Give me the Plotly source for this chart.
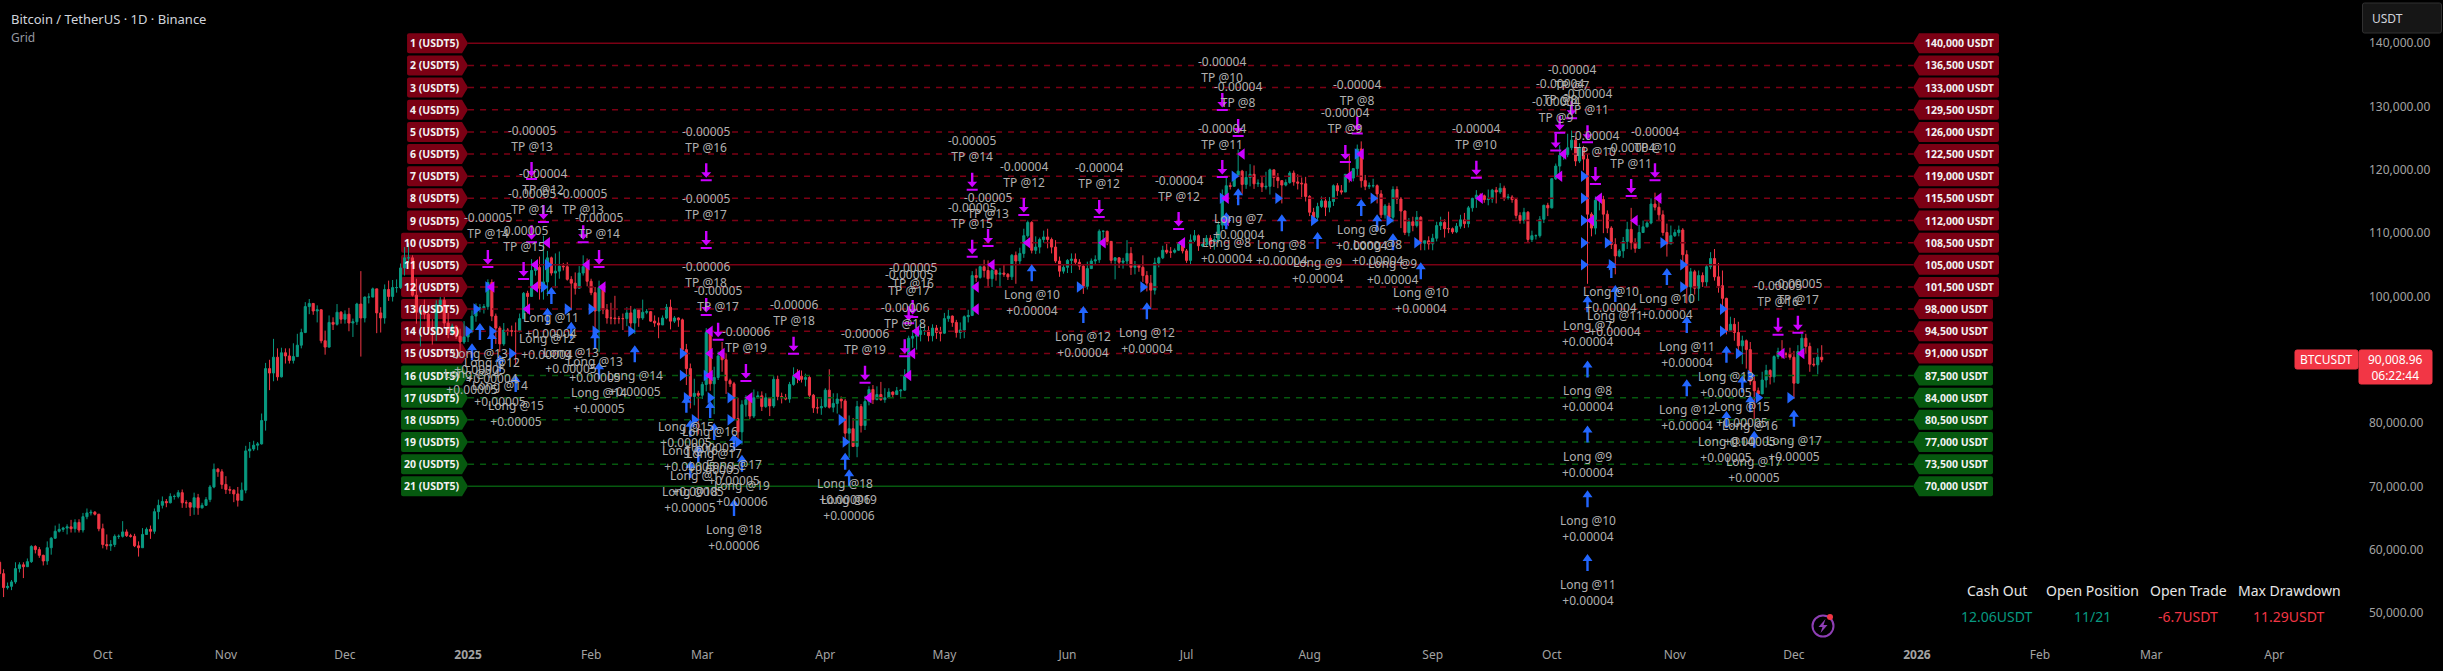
"""BTCUSDT daily candles with grid strategy levels, TP and Long markers"""

import pandas as pd
import plotly.graph_objs as go

# daily candles in thousands of USDT, first candle is 2024-09-05
first_day = '2024-09-05'
first_open = 58.0

closes = [
    # Sep 2024
    56.2, 54.0, 54.2, 54.9, 57.0, 57.6, 57.3, 58.1, 60.5, 60.0, 59.1, 58.2, 60.3, 61.8, 62.9, 63.2, 63.4, 63.6, 63.3, 64.3, 63.1, 65.2, 65.8, 65.9, 65.6, 63.3,
    # Oct
    60.8, 60.6, 60.8, 62.1, 62.1, 62.8, 62.2, 62.1, 60.6, 60.3, 62.4, 63.2, 62.9, 66.0, 67.0, 67.6, 67.4, 68.4, 68.4, 69.0, 67.4, 67.4, 66.7, 68.2, 66.6, 67.0, 67.9, 69.9, 72.7, 72.3, 70.3,
    # Nov
    69.5, 69.4, 68.8, 67.8, 69.4, 75.6, 75.9, 76.5, 76.7, 80.4, 88.6, 87.9, 90.4, 87.3, 91.1, 90.6, 89.9, 90.5, 92.3, 94.3, 98.4, 98.9, 97.7, 97.9, 93.0, 92.0, 95.9, 95.6, 97.5, 96.4,
    # Dec
    97.2, 95.8, 96.0, 98.8, 96.6, 99.9, 99.9, 101.2, 97.4, 96.6, 101.1, 100.0, 101.4, 101.4, 104.5, 106.1, 106.1, 100.2, 97.5, 97.8, 97.2, 95.1, 94.7, 98.7, 99.4, 95.8, 94.3, 95.3, 93.7, 92.8, 93.6,
    # Jan 2025
    94.6, 96.9, 98.1, 98.2, 98.4, 102.2, 96.9, 95.0, 92.5, 94.7, 94.6, 94.5, 94.5, 96.5, 100.5, 100.0, 104.1, 104.6, 101.3, 102.3, 106.1, 103.7, 104.0, 104.8, 104.7, 102.7, 102.1, 101.3, 103.7, 104.7, 102.4,
    # Feb
    100.6, 97.7, 101.4, 97.9, 96.6, 96.6, 96.5, 96.5, 96.5, 97.4, 95.8, 97.9, 96.6, 97.5, 97.6, 96.1, 95.8, 95.5, 96.6, 98.3, 96.1, 96.6, 96.3, 91.6, 88.6, 84.2, 84.7, 84.4,
    # Mar
    86.1, 94.3, 86.2, 87.2, 90.6, 90.0, 86.7, 86.2, 80.7, 78.6, 82.9, 83.7, 81.1, 84.0, 84.3, 82.6, 84.0, 82.7, 86.9, 84.2, 84.0, 83.8, 86.1, 87.5, 87.4, 86.9, 87.2, 84.4, 82.4, 82.4, 82.6,
    # Apr
    85.2, 82.5, 83.1, 83.8, 83.5, 78.4, 79.1, 76.3, 82.6, 79.6, 83.4, 85.3, 83.7, 84.5, 83.7, 84.0, 84.9, 84.5, 85.1, 85.2, 87.5, 93.4, 93.7, 94.0, 94.6, 94.6, 93.8, 95.0, 94.3, 94.2,
    # May
    96.5, 96.9, 95.9, 94.3, 94.7, 96.8, 97.0, 103.3, 103.0, 104.7, 104.1, 102.8, 104.1, 103.5, 103.7, 103.5, 103.1, 106.5, 105.6, 106.8, 109.6, 111.7, 107.3, 107.8, 109.0, 109.4, 109.0, 107.8, 105.6, 104.0, 104.6,
    # Jun
    105.7, 105.9, 105.4, 104.8, 101.6, 104.4, 105.6, 105.8, 110.3, 110.3, 108.7, 105.7, 106.1, 105.4, 105.6, 106.8, 104.6, 104.9, 104.6, 103.3, 102.1, 101.0, 105.3, 106.1, 107.3, 107.0, 107.0, 107.3, 108.4, 107.2,
    # Jul
    105.7, 108.9, 109.6, 108.0, 108.2, 109.2, 108.3, 109.0, 111.3, 115.9, 117.5, 117.4, 119.1, 119.8, 117.7, 118.8, 119.3, 117.8, 117.9, 117.3, 117.4, 120.0, 118.8, 118.3, 117.6, 118.0, 119.5, 118.1, 117.9, 117.8, 115.8,
    # Aug
    113.3, 112.5, 114.2, 115.1, 114.1, 115.0, 117.5, 116.7, 116.5, 119.3, 118.7, 120.2, 123.3, 118.3, 117.4, 117.5, 117.5, 116.2, 112.9, 114.3, 112.5, 116.9, 115.4, 113.5, 110.1, 111.8, 111.2, 112.5, 108.4, 108.8, 108.3,
    # Sep
    109.2, 111.2, 111.7, 110.7, 110.7, 110.2, 111.1, 112.1, 111.5, 114.0, 115.5, 116.0, 115.9, 115.3, 115.4, 116.8, 116.5, 117.1, 115.6, 115.7, 115.3, 112.8, 112.0, 113.3, 109.0, 109.6, 109.6, 112.2, 114.4, 114.0,
    # Oct
    118.6, 120.6, 122.3, 122.4, 123.5, 124.7, 121.4, 123.4, 121.7, 113.0, 110.8, 115.2, 115.3, 113.0, 110.8, 108.2, 106.4, 107.2, 108.7, 110.6, 108.5, 107.6, 110.1, 111.0, 111.6, 114.6, 114.1, 112.9, 110.1, 108.3, 109.6,
    # Nov
    110.1, 110.5, 106.6, 101.5, 103.9, 101.3, 103.3, 102.3, 104.7, 106.0, 103.1, 101.7, 99.7, 94.6, 95.6, 94.3, 92.2, 93.0, 91.6, 86.6, 85.1, 84.6, 86.8, 88.3, 87.3, 90.5, 91.3, 90.9, 90.9, 90.4,
    # Dec
    86.3, 91.3, 93.4, 92.1, 89.3, 89.2, 90.4, 90.00896,
]

highs = [
    58.3, 56.9, 54.8, 55.2, 58.0, 58.0, 58.0, 58.6, 60.7, 60.7, 60.4, 59.2, 61.3, 62.0, 63.8, 64.1, 63.6, 64.0, 64.7, 64.8, 64.8, 65.8, 66.5, 66.3, 66.1, 65.6,
    64.1, 62.4, 61.5, 62.4, 62.4, 64.5, 63.2, 62.5, 62.5, 61.3, 63.4, 63.5, 63.8, 66.5, 67.9, 68.4, 68.0, 68.9, 68.7, 69.4, 69.5, 67.8, 67.5, 69.0, 68.8, 67.4, 68.3, 70.2, 73.6, 72.9, 72.7,
    71.6, 70.0, 69.5, 69.9, 70.6, 76.4, 77.0, 77.2, 77.0, 81.5, 89.5, 90.0, 93.3, 91.8, 91.9, 91.8, 91.8, 92.6, 94.1, 94.9, 99.1, 99.6, 98.8, 98.6, 94.9, 94.6, 97.0, 96.7, 98.8, 97.7,
    97.8, 98.2, 96.5, 99.0, 104.0, 100.0, 100.5, 101.4, 101.2, 98.3, 101.9, 102.5, 102.6, 102.7, 105.2, 107.8, 108.4, 106.5, 102.8, 98.2, 99.5, 97.4, 96.4, 99.4, 99.9, 99.9, 97.4, 95.7, 95.4, 94.9, 96.1,
    95.0, 97.8, 98.9, 98.8, 98.8, 102.7, 102.7, 97.3, 95.3, 95.8, 95.0, 95.4, 95.9, 97.3, 100.7, 100.9, 105.9, 105.3, 106.3, 109.6, 107.2, 106.3, 106.8, 107.1, 105.3, 105.4, 103.2, 103.8, 104.8, 106.5, 106.0,
    102.8, 101.5, 102.5, 101.7, 98.8, 99.0, 100.1, 96.9, 97.3, 98.3, 98.5, 98.1, 98.0, 99.5, 98.0, 97.7, 97.0, 96.7, 97.0, 98.8, 99.5, 96.9, 96.7, 96.5, 92.5, 89.4, 87.0, 85.1,
    86.5, 95.0, 94.4, 88.9, 91.3, 92.8, 91.0, 87.0, 86.5, 84.0, 83.6, 84.4, 84.0, 85.3, 85.0, 85.0, 84.7, 84.0, 87.4, 87.5, 84.8, 84.6, 86.5, 88.8, 88.5, 88.3, 87.8, 87.5, 84.6, 83.9, 83.9,
    85.5, 88.5, 84.7, 84.7, 84.2, 83.8, 81.2, 80.8, 83.5, 83.0, 84.3, 85.8, 86.0, 85.8, 86.5, 85.5, 85.5, 85.0, 85.7, 85.3, 88.5, 93.8, 94.7, 94.5, 95.8, 95.3, 95.3, 95.6, 95.5, 95.2,
    97.4, 97.9, 97.0, 96.3, 95.9, 97.0, 97.9, 104.0, 104.4, 104.9, 105.8, 105.7, 105.0, 104.3, 104.5, 105.0, 103.7, 106.7, 107.1, 107.7, 110.7, 112.0, 111.9, 109.5, 109.3, 110.4, 110.7, 109.3, 108.9, 106.3, 105.0,
    105.9, 106.8, 106.8, 105.9, 105.0, 105.5, 106.0, 106.5, 110.6, 110.4, 110.4, 108.4, 106.2, 106.2, 106.1, 108.9, 107.8, 105.6, 105.0, 106.5, 104.0, 103.4, 106.1, 106.3, 108.0, 108.3, 107.8, 107.6, 108.5, 108.8,
    107.5, 109.8, 110.5, 109.8, 108.5, 109.7, 109.7, 109.6, 111.9, 116.9, 118.9, 118.0, 119.5, 123.2, 120.0, 119.8, 120.9, 120.7, 118.5, 118.9, 119.7, 120.2, 120.0, 119.5, 118.4, 118.5, 119.8, 119.9, 119.3, 118.8, 118.9,
    116.0, 114.0, 114.8, 115.8, 115.7, 115.7, 117.7, 117.9, 117.6, 119.3, 122.3, 120.3, 124.0, 124.5, 119.2, 118.0, 118.6, 117.7, 116.8, 114.6, 114.8, 117.4, 117.4, 115.7, 113.6, 112.4, 112.6, 113.5, 112.7, 108.8, 109.5,
    109.9, 111.8, 112.6, 112.2, 113.4, 110.9, 111.6, 112.9, 113.2, 114.3, 115.6, 116.8, 116.3, 116.1, 116.9, 117.0, 117.3, 117.9, 117.5, 116.2, 116.0, 115.4, 113.3, 114.0, 113.5, 110.4, 109.8, 112.7, 114.5, 114.8,
    118.7, 121.0, 123.9, 122.9, 125.7, 126.2, 125.1, 124.2, 123.8, 122.5, 113.3, 115.8, 115.9, 115.9, 113.6, 111.1, 109.2, 107.5, 109.4, 111.8, 114.0, 109.2, 111.3, 112.0, 111.9, 115.5, 116.4, 116.0, 113.6, 111.5, 111.2,
    110.6, 111.2, 110.8, 107.3, 104.5, 104.2, 104.1, 103.8, 105.0, 107.0, 107.5, 105.3, 104.1, 99.8, 96.8, 96.6, 96.0, 93.8, 93.2, 92.8, 87.5, 85.6, 88.1, 89.2, 88.5, 90.7, 91.9, 93.1, 91.2, 91.9,
    91.4, 92.3, 94.1, 94.1, 92.7, 90.3, 91.8, 92.3,
]

lows = [
    55.6, 52.5, 53.7, 53.6, 54.6, 56.4, 55.5, 57.6, 57.9, 59.4, 58.7, 57.5, 57.6, 59.2, 61.7, 62.7, 62.8, 62.4, 62.7, 62.7, 62.7, 62.7, 64.8, 65.4, 65.4, 62.9,
    60.2, 60.0, 59.8, 60.4, 61.7, 61.9, 62.0, 61.9, 60.4, 58.9, 60.3, 62.5, 61.7, 62.5, 64.8, 66.5, 66.7, 67.3, 67.9, 68.1, 66.6, 66.6, 65.3, 65.5, 65.5, 66.5, 66.9, 67.5, 69.7, 71.5, 69.6,
    68.8, 68.8, 67.5, 66.8, 68.5, 68.9, 74.5, 75.6, 75.7, 76.6, 78.8, 85.2, 86.6, 86.7, 87.2, 89.4, 89.4, 89.4, 90.6, 91.8, 94.2, 97.2, 97.1, 95.9, 92.6, 90.8, 91.9, 94.7, 95.4, 95.7,
    95.7, 94.5, 93.6, 95.5, 90.5, 95.9, 98.9, 100.4, 94.2, 94.3, 95.7, 99.3, 99.2, 100.6, 101.2, 103.3, 105.3, 100.0, 95.7, 92.1, 96.4, 94.2, 92.4, 93.0, 97.6, 95.1, 93.4, 93.8, 93.3, 91.3, 92.5,
    92.8, 94.2, 96.0, 97.5, 97.3, 97.9, 96.1, 92.5, 91.2, 92.2, 93.8, 93.7, 89.3, 94.3, 96.5, 97.3, 100.3, 103.3, 99.5, 99.5, 100.1, 103.3, 101.3, 102.8, 104.1, 102.5, 97.8, 100.3, 101.3, 103.3, 101.6,
    100.2, 93.4, 91.2, 97.2, 95.7, 95.6, 95.6, 95.7, 94.7, 95.3, 94.8, 94.1, 95.2, 96.3, 97.2, 96.0, 95.2, 93.4, 95.5, 96.4, 94.8, 95.8, 95.2, 91.2, 86.0, 82.3, 82.8, 78.2,
    83.8, 85.0, 85.1, 81.4, 86.8, 88.1, 84.6, 85.7, 80.6, 77.4, 76.6, 81.0, 80.6, 80.8, 83.9, 81.9, 82.4, 81.1, 82.4, 83.6, 83.1, 83.6, 83.2, 85.9, 86.3, 86.4, 85.8, 83.8, 81.6, 81.5, 81.3,
    82.4, 82.3, 81.7, 81.5, 82.3, 77.2, 74.5, 76.2, 74.6, 78.5, 78.9, 82.8, 83.0, 83.6, 83.5, 83.2, 84.0, 84.1, 84.5, 83.9, 85.1, 87.1, 91.9, 91.6, 92.9, 93.9, 92.9, 92.9, 93.3, 92.9,
    94.1, 96.0, 95.2, 93.5, 93.3, 93.4, 95.9, 96.9, 102.3, 102.8, 103.0, 101.4, 101.5, 102.5, 101.4, 103.1, 102.6, 102.6, 102.0, 105.0, 106.1, 109.3, 106.8, 106.7, 106.8, 108.5, 107.6, 106.8, 105.3, 103.1, 103.6,
    103.7, 103.7, 105.0, 104.2, 100.4, 101.1, 104.9, 105.0, 105.3, 108.3, 108.1, 105.2, 102.7, 104.5, 104.4, 104.9, 103.4, 103.5, 103.9, 102.3, 100.8, 98.2, 100.3, 104.6, 105.9, 106.7, 106.1, 106.8, 107.2, 106.8,
    105.3, 105.1, 108.6, 107.2, 107.8, 107.8, 107.5, 107.4, 108.4, 110.6, 115.2, 116.9, 117.3, 118.9, 116.2, 117.0, 117.4, 117.0, 117.3, 116.5, 116.9, 116.1, 117.3, 117.1, 114.7, 117.4, 117.8, 117.5, 116.9, 115.7, 115.0,
    112.7, 112.0, 111.9, 114.0, 112.7, 113.3, 114.3, 115.9, 116.1, 116.5, 118.0, 118.2, 118.9, 117.2, 116.8, 117.0, 117.2, 114.7, 112.4, 112.3, 111.6, 111.7, 114.6, 110.8, 109.7, 109.5, 110.3, 110.9, 107.3, 107.3, 107.4,
    107.3, 108.7, 110.5, 109.3, 110.0, 109.9, 110.0, 110.7, 110.8, 110.9, 113.4, 114.0, 115.2, 114.8, 114.4, 114.8, 114.7, 116.2, 115.1, 115.3, 114.8, 112.3, 111.5, 111.5, 108.6, 108.6, 109.0, 109.3, 111.6, 112.7,
    113.9, 118.4, 119.3, 121.6, 122.0, 123.1, 120.6, 121.1, 119.9, 102.0, 109.5, 109.8, 113.6, 110.0, 110.0, 107.5, 103.5, 106.2, 106.1, 107.5, 107.4, 106.9, 107.5, 110.3, 110.9, 111.4, 113.6, 111.9, 109.6, 106.3, 108.4,
    109.4, 109.5, 105.3, 98.9, 98.9, 100.3, 99.3, 101.5, 101.5, 104.3, 102.5, 100.6, 98.0, 94.0, 94.6, 93.0, 91.2, 89.3, 88.6, 86.0, 80.6, 83.5, 85.3, 85.6, 86.1, 86.4, 90.1, 90.2, 90.3, 90.0,
    83.8, 86.2, 91.0, 90.9, 88.1, 88.9, 87.7, 89.6,
]

# grid levels, USDT
level_prices = [140000, 136500, 133000, 129500, 126000, 122500, 119000, 115500, 112000, 108500, 105000,
                101500, 98000, 94500, 91000, 87500, 84000, 80500, 77000, 73500, 70000]
solid_rows = [1, 11, 21]
first_green_row = 16

# TP events: days since 2025-01-01, price in thousands, texts
tp_days = [5, 14, 16, 19, 16, 29, 33, 60, 60, 60, 63, 70, 82, 100, 110, 112, 111, 127, 131, 127, 140, 159, 179,
           190, 194, 190, 224, 221, 254, 278, 275, 274, 282, 284, 293, 299, 335, 330]
tp_prices = [104.5, 102.6, 118.4, 111.6, 108.4, 108.4, 104.5, 118.2, 107.5, 96.9, 93.0, 86.5, 90.8, 86.2, 90.4,
             96.6, 95.6, 116.7, 107.8, 106.1, 112.7, 112.4, 110.5, 129.3, 125.2, 118.7, 125.6, 121.1, 118.6,
             128.0, 125.7, 122.9, 124.2, 117.6, 115.7, 118.2, 94.1, 93.8]
tp_amounts = ['-0.00005', '-0.00005', '-0.00005', '-0.00004', '-0.00005', '-0.00005', '-0.00005', '-0.00005',
              '-0.00005', '-0.00006', '-0.00005', '-0.00006', '-0.00006', '-0.00006', '-0.00006', '-0.00005',
              '-0.00005', '-0.00005', '-0.00005', '-0.00005', '-0.00004', '-0.00004', '-0.00004', '-0.00004',
              '-0.00004', '-0.00004', '-0.00004', '-0.00004', '-0.00004', '-0.00004', '-0.00004', '-0.00004',
              '-0.00004', '-0.00004', '-0.00004', '-0.00004', '-0.00005', '-0.00005']
tp_rows = [14, 15, 13, 12, 14, 13, 14, 16, 17, 18, 17, 19, 18, 19, 18, 16, 17, 14, 13, 15, 12, 12, 12,
           10, 8, 11, 8, 9, 10, 7, 8, 9, 11, 10, 11, 10, 17, 16]

# Long events
long_days = [142, 155, 171, 194, 205, 214, 225, 229, 233, 240, 191, 288, 302, 289, 282, 282, 282, 282, 282, 307,
             317, 307, 321, 317, 323, 324, 334, 21, 20, 3, 6, 26, 32, 1, 8, 12, 42, 33, 55, 61, 56, 62, 67, 58,
             69, 56, 67, 95, 96]
long_prices = [105.1, 98.5, 99.1, 117.1, 113.0, 110.2, 115.4, 113.0, 110.0, 105.4, 113.3, 105.6, 104.5, 101.8,
               100.2, 89.9, 79.6, 69.4, 59.3, 96.9, 92.2, 86.9, 87.5, 81.9, 84.4, 78.8, 82.1, 101.5, 98.2, 95.8,
               94.4, 96.0, 94.5, 92.6, 90.8, 87.6, 92.3, 89.6, 84.3, 83.5, 80.5, 80.0, 78.3, 76.5, 75.0, 74.0,
               68.0, 75.3, 72.7]
long_rows = [10, 12, 12, 7, 8, 9, 6, 8, 9, 10, 8, 10, 10, 11, 7, 8, 9, 10, 11, 11, 13, 12, 15, 14, 16, 17, 17,
             11, 12, 13, 12, 13, 13, 14, 14, 15, 14, 14, 15, 16, 16, 17, 17, 17, 19, 18, 18, 18, 19]
long_amounts = ['+0.00004'] * 20 + ['+0.00005', '+0.00004', '+0.00005', '+0.00005', '+0.00005', '+0.00005',
                                    '+0.00005', '+0.00004', '+0.00004', '+0.00005', '+0.00004', '+0.00005',
                                    '+0.00005', '+0.00005', '+0.00005', '+0.00005', '+0.00005', '+0.00005',
                                    '+0.00005', '+0.00005', '+0.00005', '+0.00005', '+0.00005', '+0.00005',
                                    '+0.00006', '+0.00005', '+0.00006', '+0.00006', '+0.00006']

# fills on the grid levels
buy_fill_days = [5, 2, 0, 6, 20, 19, 25, 31, 11, 32, 41, 54, 54, 55, 57, 60, 61, 66, 66, 68, 94, 95, 154, 170,
                 193, 190, 204, 213, 224, 228, 232, 239, 191, 281, 281, 281, 281, 281, 287, 288, 301, 306, 306,
                 316, 316, 320, 323, 325, 333]
buy_fill_levels = [101500, 98000, 94500, 94500, 105000, 101500, 98000, 98000, 91000, 94500, 94500, 91000, 87500,
                   84000, 80500, 87500, 84000, 84000, 80500, 77000, 80500, 77000, 101500, 101500, 119000, 115500,
                   115500, 112000, 122500, 115500, 112000, 108500, 112000, 119000, 115500, 112000, 108500, 105000,
                   108500, 105000, 108500, 105000, 101500, 98000, 94500, 91000, 87500, 84000, 84000]
sell_fill_days = [61, 61, 61, 64, 71, 83, 101, 111, 112, 113, 128, 128, 132, 141, 160, 180, 195, 191, 222, 225,
                  255, 191, 276, 275, 285, 283, 294, 300, 331, 336, 6, 20, 17, 17, 15, 30, 34]
sell_fill_levels = [94500, 91000, 87500, 91000, 84000, 87500, 84000, 87500, 91000, 94500, 98000, 101500, 105000,
                    108500, 108500, 108500, 122500, 115500, 119000, 122500, 115500, 112000, 122500, 119000,
                    115500, 112000, 112000, 115500, 91000, 91000, 101500, 108500, 105000, 101500, 98000, 105000,
                    101500]

y_ticks = [140000, 130000, 120000, 110000, 100000, 90000, 80000, 70000, 60000, 50000]
x_tick_dates = ['2024-10-01', '2024-11-01', '2024-12-01', '2025-01-01', '2025-02-01', '2025-03-01', '2025-04-01',
                '2025-05-01', '2025-06-01', '2025-07-01', '2025-08-01', '2025-09-01', '2025-10-01', '2025-11-01',
                '2025-12-01', '2026-01-01', '2026-02-01', '2026-03-01', '2026-04-01']
x_tick_labels = ['Oct', 'Nov', 'Dec', '<b>2025</b>', 'Feb', 'Mar', 'Apr', 'May', 'Jun', 'Jul', 'Aug', 'Sep', 'Oct',
                 'Nov', 'Dec', '<b>2026</b>', 'Feb', 'Mar', 'Apr']

table_heads = ['Cash Out', 'Open Position', 'Open Trade', 'Max Drawdown']
table_values = ['12.06USDT', '11/21', '-6.7USDT', '11.29USDT']

UP = '#089981'
DOWN = '#F23645'
DARK_RED = '#7B0014'
DARK_GREEN = '#06590F'
MAGENTA = '#CC00FF'
BLUE = '#2266FF'
NOTE = '#B0B0B0'
AXIS_TEXT = '#A3A3A3'
FONT = 'Noto Sans'

PLOT_W = 2362
PLOT_H = 640
base_day = pd.Timestamp('2025-01-01')


def day(n):
    return (base_day + pd.Timedelta(days=n)).strftime('%Y-%m-%d %H:%M')


def rounded(w, h, r=2):
    """Path of a rounded box around the anchor, in pixels"""
    x, y = w / 2, h / 2
    return (f'M {-x + r},{y} L {x - r},{y} Q {x},{y} {x},{y - r} L {x},{-y + r} Q {x},{-y} {x - r},{-y} '
            f'L {-x + r},{-y} Q {-x},{-y} {-x},{-y + r} L {-x},{y - r} Q {-x},{y} {-x + r},{y} Z')


def tag_path(side, w, h=20, tip=6, r=2):
    """Path of a pentagon price tag whose point sits on the anchor"""
    s = side
    y = h / 2
    return (f'M 0,0 L {s * tip},{y} L {s * (tip + w - r)},{y} Q {s * (tip + w)},{y} {s * (tip + w)},{y - r} '
            f'L {s * (tip + w)},{-y + r} Q {s * (tip + w)},{-y} {s * (tip + w - r)},{-y} L {s * tip},{-y} Z')


def paper_note(px, py, text, size=12, color='#D1D4DC', anchor='center'):
    return dict(xref='paper', yref='paper', x=px / PLOT_W, y=1 - py / PLOT_H, text=text, showarrow=False,
                xanchor=anchor, yanchor='middle', align='left' if anchor == 'left' else 'center',
                font=dict(family=FONT, size=size, color=color))


def paper_box(px, py, w, h, fill, line=None):
    return dict(type='path', xref='paper', yref='paper', xsizemode='pixel', ysizemode='pixel',
                xanchor=px / PLOT_W, yanchor=1 - py / PLOT_H, path=rounded(w, h), fillcolor=fill,
                line=dict(color=line or fill, width=1), layer='above')


def create_chart():
    dates = pd.date_range(first_day, periods=len(closes))
    assert len(closes) == len(highs) == len(lows)
    opens = [first_open] + closes[:-1]

    fig = go.Figure()
    shapes = []
    notes = []

    # grid lines first so the candles stay on top
    for i, price in enumerate(level_prices):
        row = i + 1
        color = DARK_RED if row < first_green_row else DARK_GREEN
        fig.add_trace(go.Scatter(x=[day(0), day(364)], y=[price, price], mode='lines', hoverinfo='skip',
                                 line=dict(color=color, width=1.5, dash='solid' if row in solid_rows else '6px,6px')))

        left_w = 55 if row < 10 else 61
        shapes.append(dict(type='path', xref='x', yref='y', xsizemode='pixel', ysizemode='pixel', xanchor=day(0),
                           yanchor=price, path=tag_path(-1, left_w), fillcolor=color, line=dict(width=0), layer='below'))
        notes.append(dict(x=day(0), y=price, xshift=-(6 + left_w / 2), text=f'<b>{row} (USDT5)</b>', showarrow=False,
                          font=dict(family=FONT, size=10.5, color='#F2F2F2')))

        right_w = 80 if price > 100000 else 74
        shapes.append(dict(type='path', xref='x', yref='y', xsizemode='pixel', ysizemode='pixel', xanchor=day(364),
                           yanchor=price, path=tag_path(1, right_w), fillcolor=color, line=dict(width=0), layer='below'))
        notes.append(dict(x=day(364), y=price, xshift=6 + right_w / 2, text=f'<b>{price:,} USDT</b>', showarrow=False,
                          font=dict(family=FONT, size=10.5, color='#F2F2F2')))

    fig.add_trace(go.Candlestick(x=dates, open=[v * 1000 for v in opens], high=[v * 1000 for v in highs],
                                 low=[v * 1000 for v in lows], close=[v * 1000 for v in closes],
                                 whiskerwidth=0, hoverinfo='skip',
                                 increasing=dict(line=dict(color=UP, width=1), fillcolor=UP),
                                 decreasing=dict(line=dict(color=DOWN, width=1), fillcolor=DOWN)))

    fig.add_trace(go.Scatter(x=[day(d) for d in buy_fill_days], y=buy_fill_levels, mode='markers', hoverinfo='skip',
                             marker=dict(symbol='triangle-right', size=10, color=BLUE)))
    fig.add_trace(go.Scatter(x=[day(d) for d in sell_fill_days], y=sell_fill_levels, mode='markers', hoverinfo='skip',
                             marker=dict(symbol='triangle-left', size=10, color=MAGENTA)))

    # TP arrows point down on a bar, the note sits above
    tp_arrow = ('M -5.5,0 L 5.5,0 L 5.5,2 L -5.5,2 Z '
                'M 0,3.5 L 5,9 L 1.2,9 L 1.2,18 L -1.2,18 L -1.2,9 L -5,9 Z')
    for d, price, amount, row in zip(tp_days, tp_prices, tp_amounts, tp_rows):
        shapes.append(dict(type='path', xref='x', yref='y', xsizemode='pixel', ysizemode='pixel', xanchor=day(d),
                           yanchor=price * 1000, path=tp_arrow, fillcolor=MAGENTA, line=dict(width=0), layer='above'))
        notes.append(dict(x=day(d), y=price * 1000, yshift=42, text=f'{amount}<br>TP @{row}', showarrow=False,
                          font=dict(family=FONT, size=12, color=NOTE)))

    # Long arrows point up, the note sits below
    long_arrow = 'M 0,0 L 5,-7 L 1.2,-7 L 1.2,-17 L -1.2,-17 L -1.2,-7 L -5,-7 Z'
    for d, price, amount, row in zip(long_days, long_prices, long_amounts, long_rows):
        shapes.append(dict(type='path', xref='x', yref='y', xsizemode='pixel', ysizemode='pixel', xanchor=day(d),
                           yanchor=price * 1000, path=long_arrow, fillcolor=BLUE, line=dict(width=0), layer='above'))
        notes.append(dict(x=day(d), y=price * 1000, yshift=-38.5, text=f'Long @{row}<br>{amount}', showarrow=False,
                          font=dict(family=FONT, size=12, color=NOTE)))

    # header and the boxes around the price axis
    notes.append(paper_note(9, 18.5, 'Bitcoin / TetherUS · 1D · Binance', 13, anchor='left'))
    notes.append(paper_note(9, 37, 'Grid', 12, '#9598A1', anchor='left'))
    shapes.append(paper_box(2402, 18, 79, 30, '#161616', '#303030'))
    notes.append(paper_note(2387, 18.5, 'USDT', 12))
    shapes.append(paper_box(2326.5, 359.5, 63, 19, DOWN))
    notes.append(paper_note(2326.5, 359.5, 'BTCUSDT', 12, '#FFFFFF'))
    shapes.append(paper_box(2395.5, 367, 73, 34, DOWN))
    notes.append(paper_note(2395.5, 367, '90,008.96<br>06:22:44', 12, '#FFFFFF'))

    # summary table
    for px, head, value, color in zip([1997, 2092, 2188, 2289], table_heads, table_values, [UP, UP, DOWN, DOWN]):
        notes.append(paper_note(px, 590, head, 14, '#E6E6E6'))
        notes.append(paper_note(px, 616, value, 14, color))

    # lightning badge
    anchor = dict(xref='paper', yref='paper', xsizemode='pixel', ysizemode='pixel', xanchor=1823 / PLOT_W,
                  yanchor=1 - 626 / PLOT_H, layer='above')
    shapes.append(dict(type='circle', x0=-10.5, x1=10.5, y0=-10.5, y1=10.5, line=dict(color='#8E3FB5', width=2), **anchor))
    shapes.append(dict(type='path', path='M 2.5,7 L -4.5,-1 L -0.5,-1 L -2.5,-7 L 4.5,1 L 0.5,1 Z', fillcolor='#8E3FB5',
                       line=dict(width=0), **anchor))
    shapes.append(dict(type='circle', x0=4, x1=10, y0=6, y1=12, fillcolor=DOWN, line=dict(width=0), **anchor))

    fig.update_layout(
        width=2443, height=671,
        margin=dict(l=0, r=2443 - PLOT_W, t=0, b=671 - PLOT_H),
        paper_bgcolor='#000000', plot_bgcolor='#000000',
        showlegend=False, boxgap=0.25, shapes=shapes, annotations=notes,
        font=dict(family=FONT, color=AXIS_TEXT),
        xaxis=dict(type='date', range=[day(-117.9), day(477.1)], rangeslider=dict(visible=False), showgrid=False,
                   zeroline=False, showline=False, tickmode='array', tickvals=x_tick_dates, ticktext=x_tick_labels,
                   ticks='', tickangle=0, tickfont=dict(family=FONT, size=12, color=AXIS_TEXT), ticklabelstandoff=6),
        yaxis=dict(side='right', range=[45720, 146840], showgrid=False, zeroline=False, showline=False,
                   tickmode='array', tickvals=y_ticks, tickformat=',.2f', ticks='',
                   tickfont=dict(family=FONT, size=12, color=AXIS_TEXT), ticklabelstandoff=6),
    )
    return fig


fig = create_chart()
fig.write_html("out.html", config={'displayModeBar': False},
               post_script="document.body.style.margin='0';document.body.style.background='#000';")
